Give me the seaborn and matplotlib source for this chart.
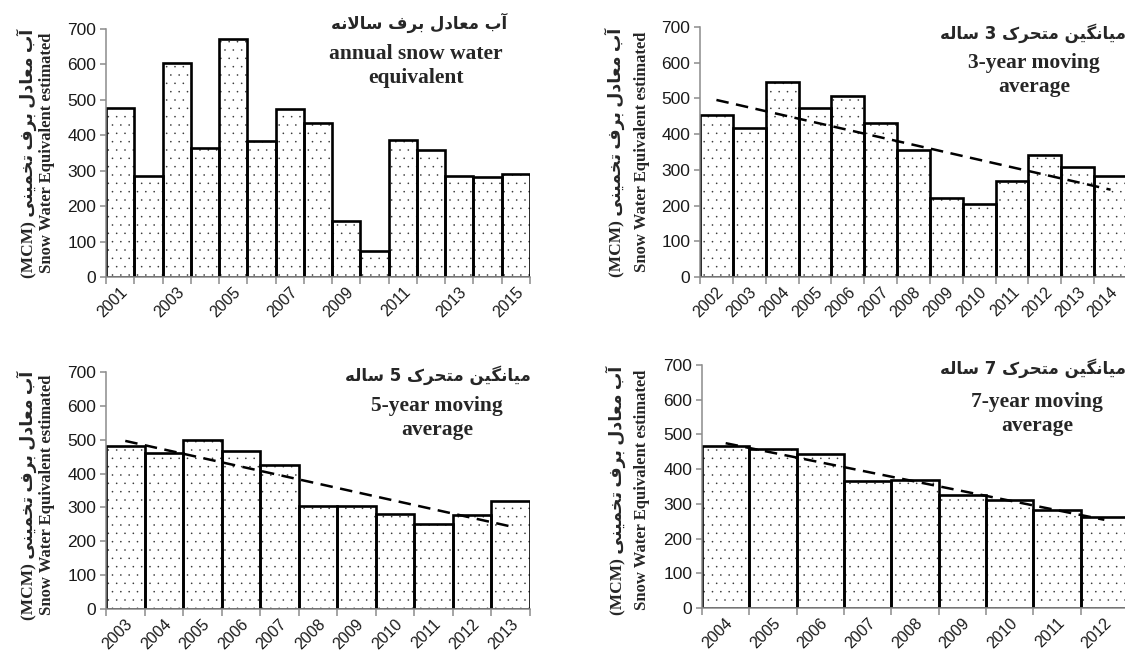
import numpy as np
import matplotlib

matplotlib.use("Agg")
import matplotlib.pyplot as plt
import matplotlib.transforms as mtransforms
import seaborn as sns

# snow water equivalent estimated (MCM)
years_annual = ["2001", "2002", "2003", "2004", "2005", "2006", "2007", "2008",
                "2009", "2010", "2011", "2012", "2013", "2014", "2015"]
swe_annual = [478, 285, 605, 363, 671, 384, 475, 436, 157, 72, 386, 358, 285, 281, 291]

years_ma3 = ["2002", "2003", "2004", "2005", "2006", "2007", "2008",
             "2009", "2010", "2011", "2012", "2013", "2014"]
swe_ma3 = [455, 416, 546, 472, 508, 431, 355, 221, 204, 270, 342, 307, 284]

years_ma5 = ["2003", "2004", "2005", "2006", "2007", "2008",
             "2009", "2010", "2011", "2012", "2013"]
swe_ma5 = [481, 461, 500, 466, 425, 305, 305, 282, 250, 277, 320]

years_ma7 = ["2004", "2005", "2006", "2007", "2008", "2009", "2010", "2011", "2012"]
swe_ma7 = [466, 459, 443, 365, 368, 325, 311, 282, 261]

FA_YLABEL = "آب معادل برف تخمینی"
FA_TITLES = ["آب معادل برف سالانه", "میانگین متحرک 3 ساله",
             "میانگین متحرک 5 ساله", "میانگین متحرک 7 ساله"]
EN_TITLES = ["annual snow water\nequivalent", "3-year moving\naverage",
             "5-year moving\naverage", "7-year moving\naverage"]
EN_YLABEL = "Snow Water Equivalent estimated"

# matplotlib has no Arabic shaping: map letters to presentation forms by hand
# (isolated, final, initial, medial); None = letter does not join to the next one
AR_FORMS = {
    "\u0622": ("\uFE81", "\uFE82", None, None),
    "\u0627": ("\uFE8D", "\uFE8E", None, None),
    "\u0628": ("\uFE8F", "\uFE90", "\uFE91", "\uFE92"),
    "\u062A": ("\uFE95", "\uFE96", "\uFE97", "\uFE98"),
    "\u062D": ("\uFEA1", "\uFEA2", "\uFEA3", "\uFEA4"),
    "\u062E": ("\uFEA5", "\uFEA6", "\uFEA7", "\uFEA8"),
    "\u062F": ("\uFEA9", "\uFEAA", None, None),
    "\u0631": ("\uFEAD", "\uFEAE", None, None),
    "\u0633": ("\uFEB1", "\uFEB2", "\uFEB3", "\uFEB4"),
    "\u0639": ("\uFEC9", "\uFECA", "\uFECB", "\uFECC"),
    "\u0641": ("\uFED1", "\uFED2", "\uFED3", "\uFED4"),
    "\u0644": ("\uFEDD", "\uFEDE", "\uFEDF", "\uFEE0"),
    "\u0645": ("\uFEE1", "\uFEE2", "\uFEE3", "\uFEE4"),
    "\u0646": ("\uFEE5", "\uFEE6", "\uFEE7", "\uFEE8"),
    "\u0647": ("\uFEE9", "\uFEEA", "\uFEEB", "\uFEEC"),
    "\u06CC": ("\uFBFC", "\uFBFD", "\uFBFE", "\uFBFF"),
    "\u06A9": ("\uFB8E", "\uFB8F", "\uFB90", "\uFB91"),
    "\u06AF": ("\uFB92", "\uFB93", "\uFB94", "\uFB95"),
}
LAM_ALEF = ("\uFEFB", "\uFEFC")


def fa(text):
    out = []
    i = 0
    while i < len(text):
        c = text[i]
        if c not in AR_FORMS:
            out.append(c)
            i += 1
            continue
        prev = text[i - 1] if i > 0 else ""
        joins_prev = prev in AR_FORMS and AR_FORMS[prev][2] is not None
        if c == "\u0644" and i + 1 < len(text) and text[i + 1] == "\u0627":
            out.append(LAM_ALEF[1 if joins_prev else 0])
            i += 2
            continue
        nxt = text[i + 1] if i + 1 < len(text) else ""
        joins_next = AR_FORMS[c][2] is not None and nxt in AR_FORMS
        iso, fin, ini, med = AR_FORMS[c]
        if joins_prev and joins_next:
            out.append(med)
        elif joins_prev:
            out.append(fin)
        elif joins_next:
            out.append(ini)
        else:
            out.append(iso)
        i += 1
    return "".join(reversed(out))


sns.set_theme(
    context="notebook",
    style="ticks",
    rc={
        "axes.edgecolor": "#8c8c8c",
        "axes.linewidth": 1.1,
        "xtick.color": "#8c8c8c",
        "ytick.color": "#8c8c8c",
        "xtick.labelcolor": "#1a1a1a",
        "ytick.labelcolor": "#1a1a1a",
        "xtick.labelsize": 11.5,
        "ytick.labelsize": 12.5,
        "hatch.linewidth": 0.0,
    },
)
plt.rcParams["font.family"] = ["Liberation Sans", "DejaVu Sans"]

W, H = 1125, 660
fig = plt.figure(figsize=(W / 100, H / 100), dpi=100)
fig.patch.set_facecolor("white")

SERIF = ["Liberation Serif", "DejaVu Sans"]


def px_axes(left, top, right, bottom):
    return fig.add_axes([left / W, 1 - bottom / H, (right - left) / W, (bottom - top) / H])


def fig_text(x, y, s, **kw):
    fig.text(x / W, 1 - y / H, s, **kw)


def draw_panel(ax, years, values, label_every=1, trend=True):
    n = len(years)
    # dotted fill (grey dots), then the heavy black outlines on top
    sns.barplot(x=years, y=values, ax=ax, color="white", saturation=1, width=1.0,
                edgecolor="#3a3a3a", linewidth=0, hatch="..", errorbar=None)
    sns.barplot(x=years, y=values, ax=ax, color="black", saturation=1, width=1.0,
                fill=False, linewidth=1.9, errorbar=None)
    if trend:
        sns.regplot(x=np.arange(n), y=np.asarray(values, dtype=float), ax=ax,
                    scatter=False, ci=None, truncate=True,
                    line_kws=dict(color="black", linewidth=1.8, linestyle=(0, (5, 3))))
    ax.set_xlim(-0.5, n - 0.5)
    ax.set_ylim(0, 700)
    ax.set_yticks(range(0, 701, 100))
    ax.set_xticks(np.arange(n + 1) - 0.5, labels=[""] * (n + 1))
    ax.set_xticks(np.arange(0, n, label_every), labels=years[::label_every], minor=True)
    ax.tick_params(axis="x", which="major", length=5, width=1.1, direction="out")
    ax.tick_params(axis="x", which="minor", length=0, pad=9)
    ax.tick_params(axis="y", length=4, width=1.1, direction="out", pad=3)
    shift = mtransforms.ScaledTranslation(5 / 100, 0, fig.dpi_scale_trans)
    for lbl in ax.get_xticklabels(minor=True):
        lbl.set_rotation(45)
        lbl.set_ha("right")
        lbl.set_va("center")
        lbl.set_rotation_mode("anchor")
        lbl.set_transform(lbl.get_transform() + shift)
    ax.set_xlabel("")
    ax.set_ylabel("")
    sns.despine(ax=ax)


panels = [
    # (left, top, right, bottom), data, label step, trend, ylabel x (fa, en), ylabel y,
    # fa title centre, en title centre
    ((106, 29, 530, 277), years_annual, swe_annual, 2, False, (27, 47), 153, (419, 23), (416, 66)),
    ((700, 27, 1127, 277), years_ma3, swe_ma3, 1, True, (615, 642), 152, (1033, 33), (1034, 75)),
    ((106, 372, 530, 609), years_ma5, swe_ma5, 1, True, (27, 47), 495, (438, 375), (437, 418)),
    ((702, 365, 1128, 608), years_ma7, swe_ma7, 1, True, (616, 642), 490, (1033, 368), (1037, 414)),
]

for k, (rect, years, values, step, trend, ylx, yly, fa_xy, en_xy) in enumerate(panels):
    ax = px_axes(*rect)
    draw_panel(ax, years, values, label_every=step, trend=trend)
    fig_text(ylx[0], yly, "(MCM) " + fa(FA_YLABEL), rotation=90, ha="center", va="center",
             fontsize=12.5, fontweight="bold", family=SERIF)
    fig_text(ylx[1], yly, EN_YLABEL, rotation=90, ha="center", va="center",
             fontsize=12, fontweight="bold", family=SERIF)
    fig_text(fa_xy[0], fa_xy[1], fa(FA_TITLES[k]), ha="center", va="center",
             fontsize=12, fontweight="bold", family=["DejaVu Sans"])
    fig_text(en_xy[0], en_xy[1], EN_TITLES[k], ha="center", va="center",
             fontsize=15.5, fontweight="bold", family=SERIF, linespacing=1.3)

fig.savefig("out.png", dpi=100, facecolor="white")
